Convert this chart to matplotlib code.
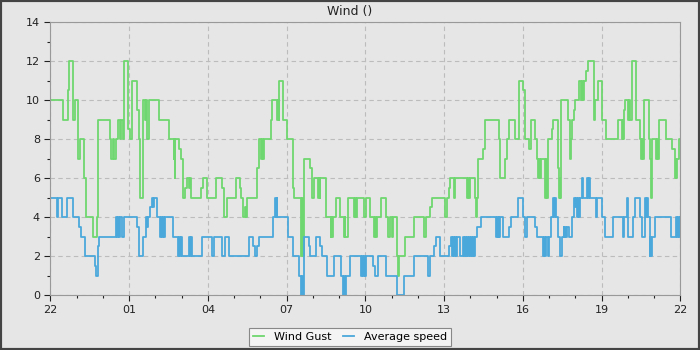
import matplotlib
matplotlib.use('Agg')
import matplotlib.pyplot as plt
from matplotlib.patches import Rectangle

# hours after 22:00, value holds until next change
gust_t = [0.00, 0.47, 0.66, 0.71, 0.88, 0.93, 1.04, 1.07, 1.12, 1.30, 1.37, 1.62, 1.79, 1.83,
          2.28, 2.33, 2.38, 2.43, 2.49, 2.57, 2.67, 2.71, 2.75, 2.80, 2.97, 3.05, 3.13, 3.30,
          3.36, 3.40, 3.53, 3.61, 3.65, 3.69, 3.74, 4.14, 4.52, 4.70, 4.72, 4.74, 4.76, 4.92,
          4.99, 5.04, 5.14, 5.19, 5.27, 5.32, 5.35, 5.75, 5.80, 5.96, 6.31, 6.54, 6.62, 6.72,
          7.07, 7.23, 7.28, 7.35, 7.40, 7.45, 7.51, 7.89, 7.94, 8.04, 8.07, 8.10, 8.14, 8.39,
          8.45, 8.65, 8.68, 8.70, 8.72, 8.88, 9.03, 9.23, 9.28, 9.56, 9.60, 9.62, 9.65, 9.91,
          9.96, 10.06, 10.21, 10.23, 10.26, 10.28, 10.52, 10.69, 10.71, 10.74, 10.78, 10.90,
          11.05, 11.18, 11.21, 11.24, 11.33, 11.58, 11.61, 11.64, 11.68, 11.94, 12.01, 12.17,
          12.34, 12.38, 12.42, 12.45, 12.60, 12.80, 12.88, 12.93, 13.00, 13.06, 13.21, 13.24,
          13.27, 13.50, 13.87, 14.25, 14.32, 14.48, 14.55, 15.04, 15.11, 15.19, 15.24,
          15.38, 15.41, 15.89, 15.92, 15.95, 15.99, 16.17, 16.21, 16.24, 16.29, 16.50, 16.57,
          17.08, 17.13, 17.31, 17.38, 17.46, 17.69, 17.84, 17.99, 18.07, 18.25, 18.30, 18.48,
          18.55, 18.58, 18.61, 18.64, 18.68, 18.86, 18.90, 18.93, 18.96, 19.11, 19.16, 19.35,
          19.37, 19.40, 19.42, 19.45, 19.73, 19.79, 19.84, 19.89, 19.94, 19.99, 20.14, 20.22,
          20.25, 20.28, 20.32, 20.42, 20.50, 20.70, 20.73, 20.75, 20.85, 21.03, 21.18, 21.64,
          21.77, 21.80, 21.82, 21.84, 21.89, 22.02, 22.06, 22.10, 22.15, 22.32, 22.48, 22.51,
          22.55, 22.57, 22.60, 22.81, 22.84, 22.88, 22.93, 23.09, 23.13, 23.16, 23.19, 23.47,
          23.70, 23.80, 23.83, 23.85, 23.87, 23.95, 24.00]
gust_v = [10, 9, 10.5, 12, 9, 10, 8, 7, 8, 6, 4, 3, 4, 9,
          8, 7, 8, 7, 8, 9, 8, 9, 8, 12, 8.5, 8, 11, 9.5,
          8, 5, 10, 9, 10, 8, 10, 9, 8, 7, 8, 6, 8, 7.5,
          7, 5, 5.5, 6, 5.5, 6, 5, 5.5, 6, 5, 6, 5.5, 4, 5,
          6, 5.5, 5, 4, 4.5, 4, 5, 6.5, 8, 7, 8, 7, 8, 9,
          10, 9, 10, 9, 11, 9, 8, 5.5, 5, 2, 5, 2, 7, 6.5,
          5, 6, 5, 6, 5, 6, 4, 3, 4, 3, 4, 5,
          4, 3, 4, 3, 5, 4, 5, 4, 5, 4, 5, 4,
          3, 4, 3, 4, 5, 4, 3, 4, 3, 4, 2, 1,
          2, 3, 4, 3, 4, 4.5, 5, 4, 5, 5.5, 6,
          5, 6, 5, 6, 5, 6, 5, 4, 5, 7, 7.5, 9,
          8, 6, 7, 8, 9, 8, 11, 10.5, 8, 7.5, 9, 8,
          7, 6, 7, 6, 7, 5, 7, 5, 8, 8.5, 9, 6.5,
          5, 6, 5, 10, 9, 7, 8, 9, 9.5, 10, 11, 10,
          11, 10, 11, 11.5, 12, 10, 9, 10, 11, 9, 8, 9,
          8, 9, 8, 9.5, 10, 9, 10, 9, 12, 9, 8, 7,
          8, 7, 10, 8, 7, 5, 8, 7, 8, 7, 9, 8,
          7.5, 6, 7, 6, 7, 8, 8]

avg_t = [0.00, 0.24, 0.28, 0.45, 0.65, 0.85, 1.11, 1.18, 1.31, 1.69, 1.74, 1.82, 1.87, 2.50,
         2.54, 2.58, 2.62, 2.66, 2.73, 2.81, 3.29, 3.37, 3.54, 3.65, 3.68, 3.72, 3.80, 3.87,
         3.92, 3.96, 4.05, 4.18, 4.22, 4.26, 4.30, 4.34, 4.38, 4.66, 4.87, 4.91, 4.95, 4.99,
         5.03, 5.09, 5.27, 5.31, 5.35, 5.39, 5.42, 5.78, 6.16, 6.24, 6.54, 6.67, 6.82, 7.58,
         7.73, 7.80, 7.86, 7.94, 8.47, 8.57, 8.60, 8.62, 8.65, 9.06, 9.23, 9.46, 9.56, 9.60,
         9.62, 9.65, 9.85, 9.91, 10.13, 10.29, 10.34, 10.54, 10.80, 11.07, 11.15, 11.19,
         11.22, 11.28, 11.40, 11.84, 11.87, 11.90, 11.94, 11.97, 12.01, 12.29, 12.37, 12.47,
         12.80, 13.21, 13.49, 13.87, 14.40, 14.48, 14.63, 14.70, 14.86, 14.95, 15.20, 15.28,
         15.31, 15.34, 15.38, 15.42, 15.45, 15.48, 15.61, 15.73, 15.77, 15.81, 15.85, 15.89,
         15.93, 15.96, 15.99, 16.03, 16.07, 16.10, 16.14, 16.17, 16.27, 16.39, 16.98, 17.01,
         17.04, 17.08, 17.11, 17.14, 17.26, 17.49, 17.54, 17.82, 17.99, 18.07, 18.10, 18.15,
         18.45, 18.55, 18.78, 18.82, 18.86, 18.90, 18.94, 19.01, 19.09, 19.16, 19.20, 19.23,
         19.26, 19.35, 19.40, 19.51, 19.55, 19.58, 19.62, 19.66, 19.70, 19.76, 19.86, 19.96,
         20.00, 20.03, 20.06, 20.10, 20.14, 20.18, 20.27, 20.29, 20.45, 20.48, 20.51, 20.55,
         20.78, 20.81, 21.00, 21.13, 21.44, 21.82, 21.85, 21.97, 22.02, 22.20, 22.27, 22.48,
         22.53, 22.65, 22.70, 22.74, 22.78, 22.83, 22.86, 22.89, 22.93, 23.04, 23.65, 23.82,
         23.86, 23.90, 23.94, 23.98, 24.00]
avg_v = [5, 4, 5, 4, 5, 4, 3.5, 3, 2, 1.5, 1, 2.5, 3, 4,
         3, 4, 3, 4, 3, 4, 3.5, 2, 3, 4, 3.5, 4, 4.5, 5,
         4.5, 5, 4, 3, 4, 3, 4, 3, 4, 3, 2, 3, 2, 3,
         2, 2, 3, 2, 3, 2, 2, 3, 2, 3, 2, 3, 2, 3,
         2.5, 2, 2.5, 3, 4, 5, 4, 5, 4, 3, 2, 1, 0, 1,
         0, 3, 2.5, 2, 3, 2.5, 2, 1, 2, 1, 0, 1,
         0, 1, 2, 1, 2, 1, 2, 1, 2, 1.5, 1, 2,
         1, 0, 1, 2, 1, 2, 2.5, 3, 2, 2, 2.5, 3,
         2, 3, 2, 3, 2, 3, 2, 3, 2, 3, 2, 3,
         2, 3, 2, 3, 2, 3, 2, 3, 3.5, 4, 3, 4,
         3, 4, 3, 4, 3, 3.5, 4, 5, 4, 3.5, 3, 4,
         3.5, 3, 2, 3, 2, 3, 2, 3, 4, 5, 4, 5,
         4, 3, 2, 3, 3.5, 3, 3.5, 3, 3.5, 3, 4, 5,
         4.5, 5, 4, 5, 4, 5, 6, 5, 6, 5, 6, 5,
         4, 5, 4, 3, 4, 3, 4, 5, 3, 4, 5, 4,
         3, 5, 4, 5, 4, 2, 3, 2, 3, 4, 3, 4,
         3, 4, 3, 4, 4]

tick_pos = [0, 3, 6, 9, 12, 15, 18, 21, 24]
tick_labels = ['22', '01', '04', '07', '10', '13', '16', '19', '22']

bg = '#e6e6e6'
fig = plt.figure(figsize=(7, 3.5), dpi=100, facecolor=bg)
ax = fig.add_axes([0.0719, 0.157, 0.9, 0.78], facecolor=bg)

ax.step(gust_t, gust_v, where='post', color='#6fd76f', lw=1.3, label='Wind Gust')
ax.step(avg_t, avg_v, where='post', color='#4aa8da', lw=1.3, label='Average speed')

ax.set_xlim(0, 24)
ax.set_ylim(0, 14)
ax.set_xticks(tick_pos)
ax.set_xticklabels(tick_labels)
ax.set_xticks(range(25), minor=True)
ax.set_yticks(range(0, 15, 2))
ax.set_yticks(range(1, 15, 2), minor=True)
ax.tick_params(which='major', length=4, width=0.8, labelsize=8, colors='#222222')
ax.tick_params(which='minor', length=2.5, width=0.8, colors='#222222')
ax.grid(True, which='major', color='#bcbcbc', linestyle=(0, (4, 3)), linewidth=0.8)
for s in ax.spines.values():
    s.set_color('#999999')

fig.text(0.5, 0.968, 'Wind ()', ha='center', va='center', fontsize=9, color='#222222')

leg = fig.legend(loc='center', bbox_to_anchor=(0.5, 0.037), ncol=2, fontsize=8,
                 handlelength=1.0, handletextpad=0.9, columnspacing=1.0,
                 fancybox=False, edgecolor='#888888', facecolor='#f4f4f4', framealpha=1)
leg.get_frame().set_linewidth(0.8)

fig.patches.append(Rectangle((0, 0), 1, 1, transform=fig.transFigure, fill=False,
                             edgecolor='#444444', linewidth=3))

fig.savefig('out.png', dpi=100, facecolor=bg)
